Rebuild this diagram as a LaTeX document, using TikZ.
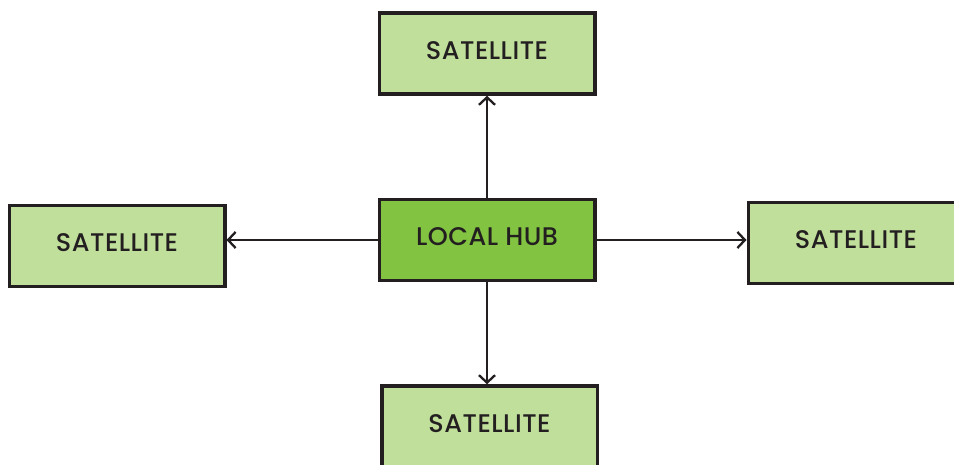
\documentclass[tikz,border=0pt]{standalone}
\usepackage{fontspec}
\setmainfont{Poppins}
\newfontfamily\boxfont{Poppins Medium}[LetterSpace=2]
\usepackage{xcolor}
\usetikzlibrary{arrows.meta,positioning}

\definecolor{boxline}{HTML}{231F20}
\definecolor{satgreen}{HTML}{C0DF9B}
\definecolor{hubgreen}{HTML}{82C341}

\begin{document}
\begin{tikzpicture}[
  x=1pt, y=-1pt,
  box/.style={rectangle, draw=boxline, line width=3.5pt,
    minimum width=215.5pt, minimum height=81pt, text depth=6pt,
    font=\boxfont\fontsize{25.5}{29}\selectfont, text=boxline},
  sat/.style={box, fill=satgreen},
  hub/.style={box, fill=hubgreen},
  arr/.style={-{Straight Barb[length=7.5pt,width=16pt]}, line width=2.3pt,
    draw=boxline}
]
\useasboundingbox (0,0) rectangle (954,465);
\clip (0,0) rectangle (954,465);
\node[hub] (local) at (487,240) {LOCAL HUB};
\node[sat, above=102pt of local] (north) {SATELLITE};
\node[sat, below=102pt of local, xshift=2.5pt] (south) {SATELLITE};
\node[sat, left=151pt of local, yshift=-6pt] (west) {SATELLITE};
\node[sat, right=150pt of local, yshift=-3pt] (east) {SATELLITE};
\draw[arr] (local.north) -- (north.south);
\draw[arr] (local.south) -- (local.south |- south.north);
\draw[arr] (local.west) -- (local.west -| west.east);
\draw[arr] (local.east) -- (local.east -| east.west);
\end{tikzpicture}
\end{document}
